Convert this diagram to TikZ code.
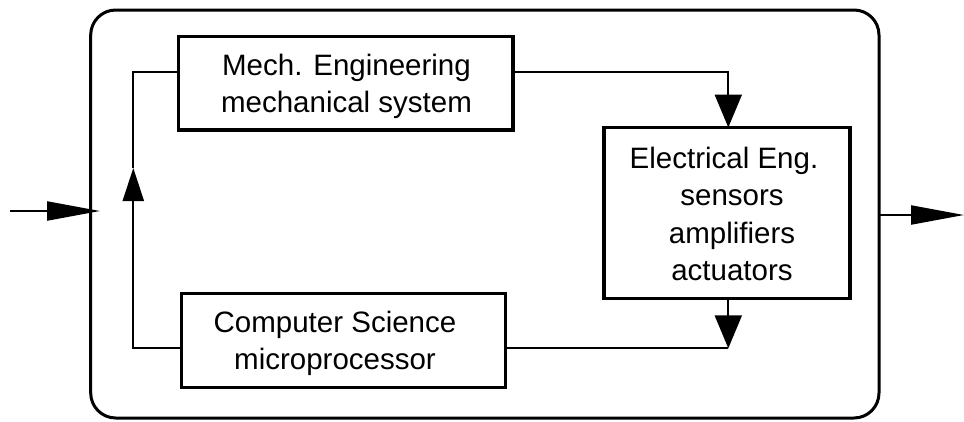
\documentclass[tikz,border=0pt]{standalone}
\usepackage{fontspec}
\setmainfont{Liberation Sans}
\usetikzlibrary{arrows.meta}
\begin{document}
\begin{tikzpicture}[x=1pt,y=-1pt,
  blk/.style={draw, line width=3.8pt, rectangle, inner sep=0pt, outer sep=0pt},
  frm/.style={draw, line width=3pt, rectangle, rounded corners=25pt, inner sep=0pt, outer sep=0pt},
  txt/.style={align=center, inner sep=0pt, font=\fontsize{29.5}{37.5}\selectfont},
  conn/.style={line width=2.2pt},
  tipwide/.style={-{Triangle[length=33pt,width=27pt]}},
  tipnarrow/.style={-{Triangle[length=33pt,width=21pt]}},
  tipio/.style={-{Triangle[length=53pt,width=19pt]}}
]
\useasboundingbox (0,0) rectangle (964,421);
% frame
\node[frm, minimum width=788.3pt, minimum height=408pt] (frame) at (484.85,214) {};
% boxes
\node[blk, minimum width=334.5pt, minimum height=93.5pt] (mech) at (345.75,83.25) {};
\node[blk, minimum width=324pt, minimum height=94pt] (cs) at (343.5,340.5) {};
\node[blk, minimum width=246pt, minimum height=171pt] (ee) at (727,213) {};
% texts
\node[txt] (mecht) at (346.5,86.3) {Mech. Engineering\\mechanical system};
\node[txt] (cst) at (335,343.3) {Computer Science\\microprocessor};
\node[txt] (eet) at (728,213.7) {Electrical Eng.\hspace*{8pt}\\\hspace*{8pt}sensors\\\hspace*{8pt}amplifiers\\\hspace*{8pt}actuators};
% coordinates
\coordinate (c1) at (133.3,72);
\coordinate (c2) at (133.3,348.3);
\coordinate (c3) at (728.3,72);
\coordinate (c4) at (728.3,348.3);
\coordinate (upTip) at (133.3,168);
\coordinate (inS) at (10,211);
\coordinate (inE) at (100,211);
\coordinate (outE) at (964,215);
% connectors
\draw[conn, tipnarrow] (c2 -| cs.west) -- (c2) -- (upTip);
\draw[conn] (upTip) -- (c1) -- (c1 -| mech.west);
\draw[conn, tipwide] (c3 -| mech.east) -- (c3) -- (c3 |- ee.north);
\draw[conn, tipwide] (c4 |- ee.south) -- (c4);
\draw[conn] (c4) -- (c4 -| cs.east);
\draw[conn, tipio] (inS) -- (inE);
\draw[conn, tipio] (frame.east |- outE) -- (outE);
\end{tikzpicture}
\end{document}
